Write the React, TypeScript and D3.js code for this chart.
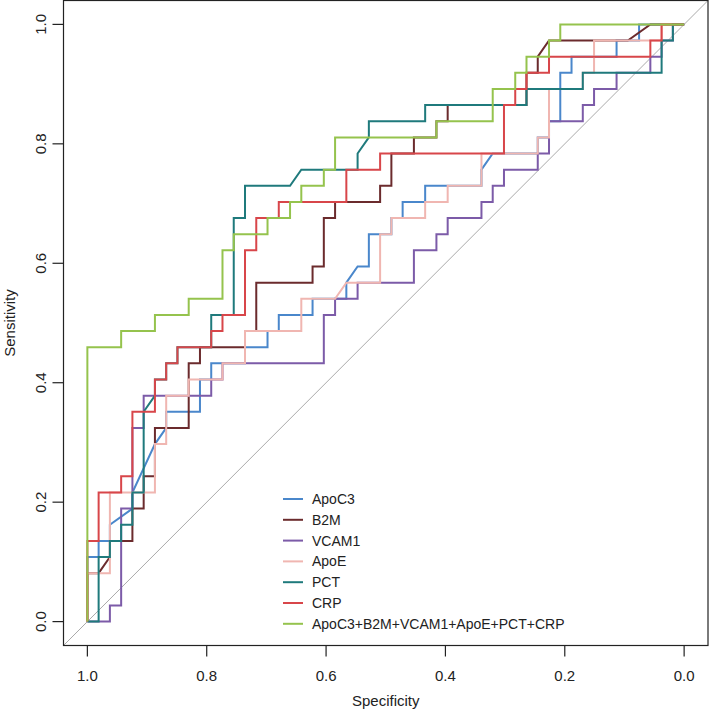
import React, { useEffect, useRef } from 'react';
import * as d3 from 'd3';

// ROC steps, as [false positives, true positives]
// out of 53 controls and 37 cases
const N_CONTROLS = 53;
const N_CASES = 37;

const apoC3 = [[0,0],[0,4],[1,4],[1,5],[2,5],[2,6],[4,7],[4,8],[6,11],[7,12],[7,13],[10,13],[10,15],[11,15],[11,16],[14,16],[14,17],[16,17],[16,18],[17,18],[17,19],[20,19],[20,20],[23,20],[23,21],[24,22],[25,22],[25,24],[27,24],[27,25],[28,25],[28,26],[30,26],[30,27],[35,27],[35,28],[36,29],[40,29],[40,30],[41,30],[41,31],[42,31],[42,34],[43,34],[43,35],[47,35],[47,36],[49,36],[49,37],[53,37]];
const b2m = [[0,0],[0,3],[1,3],[2,4],[2,5],[3,5],[4,5],[4,7],[5,7],[5,9],[6,9],[6,12],[9,12],[9,16],[10,16],[10,17],[14,17],[14,18],[15,18],[15,21],[20,21],[20,22],[21,22],[21,25],[22,25],[22,26],[26,26],[26,27],[27,27],[27,29],[29,29],[29,30],[31,30],[31,31],[32,31],[32,32],[39,32],[39,34],[40,34],[40,35],[41,36],[48,36],[50,37],[53,37]];
const vcam1 = [[0,0],[2,0],[2,1],[3,1],[3,7],[4,7],[4,12],[5,12],[5,14],[11,14],[11,15],[12,15],[12,16],[21,16],[21,19],[22,19],[22,20],[24,20],[24,21],[29,21],[29,23],[31,23],[31,24],[32,24],[32,25],[35,25],[35,26],[36,26],[36,27],[37,27],[37,28],[40,28],[40,29],[41,29],[41,31],[44,31],[44,32],[45,32],[45,33],[47,33],[47,34],[50,34],[50,35],[51,35],[51,36],[52,36],[52,37],[53,37]];
const apoE = [[0,0],[0,3],[2,3],[2,8],[6,8],[6,11],[7,11],[7,14],[9,14],[9,15],[12,15],[12,16],[14,16],[14,18],[19,18],[19,20],[22,20],[23,21],[26,21],[26,24],[27,24],[27,25],[30,25],[30,26],[32,26],[32,27],[35,27],[35,29],[40,29],[40,30],[41,30],[41,33],[44,33],[44,34],[45,34],[45,36],[50,36],[51,36],[51,37],[53,37]];
const pct = [[0,0],[1,0],[1,4],[2,4],[2,5],[3,5],[3,6],[4,6],[4,8],[5,8],[5,13],[6,14],[6,15],[7,15],[7,16],[8,16],[8,17],[11,17],[11,19],[13,19],[13,25],[14,25],[14,27],[18,27],[19,28],[24,28],[24,29],[25,30],[25,31],[30,31],[30,32],[39,32],[39,33],[44,33],[44,34],[51,34],[51,36],[52,36],[52,37],[53,37]];
const crp = [[0,0],[0,5],[1,5],[1,8],[3,8],[3,9],[4,9],[4,13],[6,13],[6,15],[7,15],[7,16],[8,16],[8,17],[11,17],[11,18],[12,18],[12,19],[14,19],[14,23],[15,23],[15,25],[17,25],[17,26],[23,26],[23,28],[26,28],[26,29],[37,29],[37,32],[38,32],[38,33],[39,33],[39,34],[41,34],[41,35],[50,35],[50,36],[51,36],[51,37],[53,37]];
const combined = [[0,0],[0,17],[3,17],[3,18],[6,18],[6,19],[9,19],[9,20],[12,20],[12,23],[13,23],[13,24],[16,24],[16,25],[18,25],[18,26],[19,26],[19,27],[21,27],[21,28],[22,28],[22,30],[31,30],[31,31],[36,31],[36,33],[38,33],[38,34],[39,34],[39,35],[41,35],[41,36],[42,36],[42,37],[53,37]];

const labels = ['ApoC3', 'B2M', 'VCAM1', 'ApoE', 'PCT', 'CRP', 'ApoC3+B2M+VCAM1+ApoE+PCT+CRP'];
const curves = [apoC3, b2m, vcam1, apoE, pct, crp, combined];
const colors = ['#4a87cb', '#6b2b2d', '#7c5ba8', '#f0b6b1', '#1f7a7c', '#d8464a', '#95c34d'];

const xTicks = [1.0, 0.8, 0.6, 0.4, 0.2, 0.0];
const yTicks = [0.0, 0.2, 0.4, 0.6, 0.8, 1.0];

const FONT = '"Liberation Sans", Arial, Helvetica, sans-serif';

const drawChart = (node: SVGSVGElement) => {
  const width = 709;
  const height = 712;
  const svg = d3.select(node).attr('width', width).attr('height', height);
  svg.selectAll('*').remove();

  const x = d3.scaleLinear().domain([1.04, -0.04]).range([63.5, 708]);
  const y = d3.scaleLinear().domain([-0.04, 1.04]).range([645.5, 0.5]);

  svg.append('rect')
    .attr('width', width)
    .attr('height', height)
    .attr('fill', '#fff');

  // identity line
  svg.append('line')
    .attr('x1', x(1.04)).attr('y1', y(-0.04))
    .attr('x2', x(-0.04)).attr('y2', y(1.04))
    .attr('stroke', '#aaaaaa')
    .attr('stroke-width', 1);

  const line = d3.line<number[]>()
    .x(d => x(1 - d[0] / N_CONTROLS))
    .y(d => y(d[1] / N_CASES));

  curves.forEach((c, i) => {
    svg.append('path')
      .attr('d', line(c))
      .attr('fill', 'none')
      .attr('stroke', colors[i])
      .attr('stroke-width', 2)
      .attr('stroke-linejoin', 'miter');
  });

  // box
  svg.append('rect')
    .attr('x', x(1.04)).attr('y', y(1.04))
    .attr('width', x(-0.04) - x(1.04))
    .attr('height', y(-0.04) - y(1.04))
    .attr('fill', 'none')
    .attr('stroke', '#222')
    .attr('stroke-width', 1.2);

  // x axis
  const xAxis = svg.append('g');
  xAxis.append('line')
    .attr('x1', x(1)).attr('x2', x(0))
    .attr('y1', y(-0.04)).attr('y2', y(-0.04))
    .attr('stroke', '#222');
  xTicks.forEach(t => {
    xAxis.append('line')
      .attr('x1', x(t)).attr('x2', x(t))
      .attr('y1', y(-0.04)).attr('y2', y(-0.04) + 11)
      .attr('stroke', '#222').attr('stroke-width', 1.2);
    xAxis.append('text')
      .attr('x', x(t)).attr('y', 681)
      .attr('text-anchor', 'middle')
      .attr('font-family', FONT).attr('font-size', 15)
      .attr('fill', '#222')
      .text(t.toFixed(1));
  });

  // y axis
  const yAxis = svg.append('g');
  yTicks.forEach(t => {
    yAxis.append('line')
      .attr('x1', x(1.04)).attr('x2', x(1.04) - 11)
      .attr('y1', y(t)).attr('y2', y(t))
      .attr('stroke', '#222').attr('stroke-width', 1.2);
    yAxis.append('text')
      .attr('transform', `translate(46,${y(t)}) rotate(-90)`)
      .attr('text-anchor', 'middle')
      .attr('font-family', FONT).attr('font-size', 15)
      .attr('fill', '#222')
      .text(t.toFixed(1));
  });

  svg.append('text')
    .attr('x', (x(1.04) + x(-0.04)) / 2).attr('y', 706)
    .attr('text-anchor', 'middle')
    .attr('font-family', FONT).attr('font-size', 15)
    .attr('fill', '#222')
    .text('Specificity');

  svg.append('text')
    .attr('transform', `translate(15,${(y(-0.04) + y(1.04)) / 2}) rotate(-90)`)
    .attr('text-anchor', 'middle')
    .attr('font-family', FONT).attr('font-size', 15)
    .attr('fill', '#222')
    .text('Sensitivity');

  // legend
  const legend = svg.append('g').attr('transform', 'translate(283,499)');
  labels.forEach((lab, i) => {
    const g = legend.append('g').attr('transform', `translate(0,${i * 20.8})`);
    g.append('line')
      .attr('x1', 0).attr('x2', 20)
      .attr('stroke', colors[i])
      .attr('stroke-width', 2);
    g.append('text')
      .attr('x', 29).attr('y', 5)
      .attr('font-family', FONT).attr('font-size', 14)
      .attr('fill', '#222')
      .text(lab);
  });
};

const App = () => {
  const ref = useRef<SVGSVGElement>(null);
  useEffect(() => {
    if (ref.current) drawChart(ref.current);
  }, []);
  return (
    <svg ref={ref} style={{ position: 'absolute', left: 0, top: 0, display: 'block' }} />
  );
};

export default App;
